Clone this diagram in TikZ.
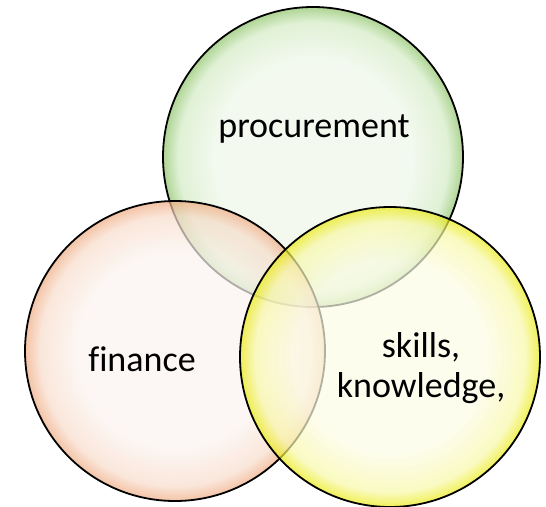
\documentclass[tikz,border=0pt]{standalone}
\usepackage{fontspec}
\setmainfont{Carlito}[Ligatures=CommonOff]
\usepackage{tikz}
\usetikzlibrary{positioning}
\definecolor{vertBord}{HTML}{8CC266}
\definecolor{vertMilieu}{HTML}{D3EBC4}
\definecolor{vertCentre}{HTML}{EFF7EA}
\definecolor{orangeBord}{HTML}{EFAA80}
\definecolor{orangeMilieu}{HTML}{F8DCCB}
\definecolor{orangeCentre}{HTML}{FBF4F0}
\definecolor{jauneBord}{HTML}{EAEA10}
\definecolor{jauneMilieu}{HTML}{F8F8A8}
\definecolor{jauneCentre}{HTML}{FCFCE6}
% le cercle du noeud couvre 25bp de la nuance
\pgfdeclareradialshading{bulleVert}{\pgfpoint{0bp}{0bp}}{color(0bp)=(vertCentre); color(16bp)=(vertCentre); color(22.5bp)=(vertMilieu); color(25bp)=(vertBord); color(50bp)=(vertBord)}
\pgfdeclareradialshading{bulleOrange}{\pgfpoint{0bp}{0bp}}{color(0bp)=(orangeCentre); color(16bp)=(orangeCentre); color(22.5bp)=(orangeMilieu); color(25bp)=(orangeBord); color(50bp)=(orangeBord)}
\pgfdeclareradialshading{bulleJaune}{\pgfpoint{0bp}{0bp}}{color(0bp)=(jauneCentre); color(16bp)=(jauneCentre); color(22.5bp)=(jauneMilieu); color(25bp)=(jauneBord); color(50bp)=(jauneBord)}

\begin{document}
\begin{tikzpicture}[x=1pt,y=-1pt]
\tikzstyle{cercle}=[circle,draw=black,line width=1.8pt,minimum size=300pt,inner sep=0pt,fill opacity=0.7,draw opacity=1]
\tikzstyle{etiquette}=[font=\fontsize{36}{40}\selectfont,align=center,anchor=base,inner sep=0pt]
\useasboundingbox (0,0) rectangle (546,506);
\node[cercle,shading=bulleVert] (P) at (313,157) {};
\node[cercle,shading=bulleOrange] (F) at (175,351) {};
\node[cercle,shading=bulleJaune] (S) at (390,357) {};
\node[etiquette] (tP) at (314,137) {procurement};
\node[etiquette] (tF) at (142,371) {finance};
\node[etiquette] (tS) at (421,397) {skills,\\knowledge,};
\end{tikzpicture}
\end{document}
